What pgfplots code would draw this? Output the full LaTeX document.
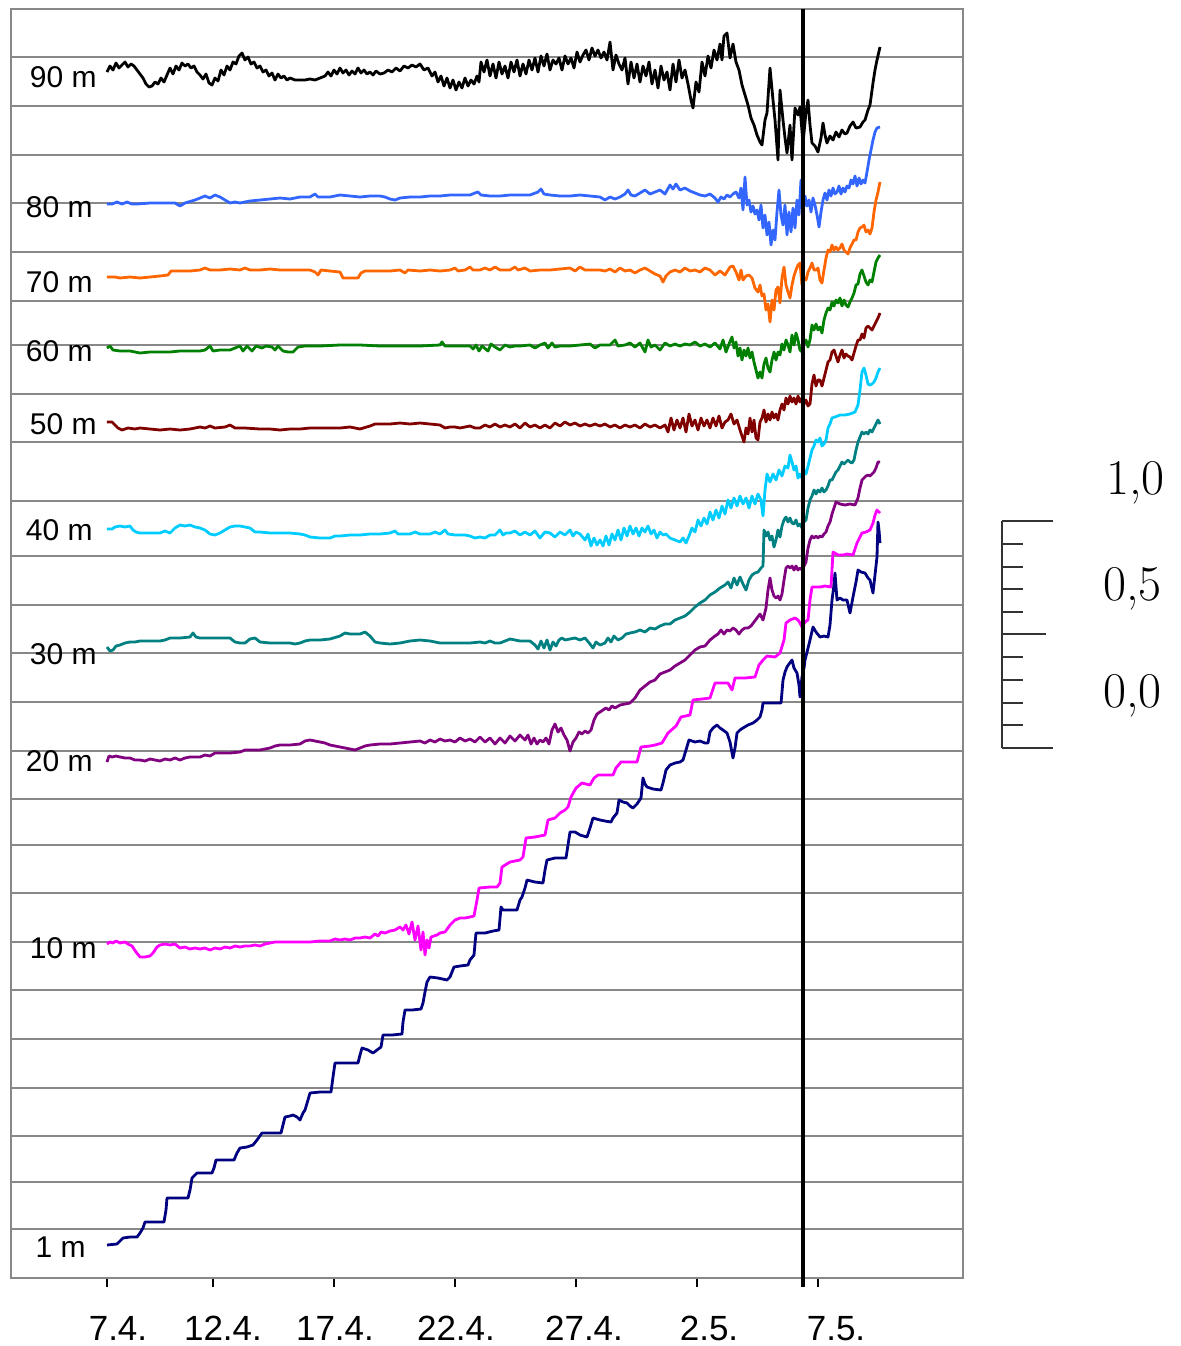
\documentclass[border=0pt]{standalone}
\usepackage{fontspec}
\usepackage{pgfplots}
\pgfplotsset{compat=1.18}
\newfontfamily\arial{Liberation Sans}
\newfontfamily\lmr{Latin Modern Roman}
\definecolor{c80}{HTML}{3366FF}
\definecolor{c70}{HTML}{FF6600}
\definecolor{c60}{HTML}{008000}
\definecolor{c50}{HTML}{800000}
\definecolor{c40}{HTML}{00CCFF}
\definecolor{c30}{HTML}{008080}
\definecolor{c20}{HTML}{800080}
\definecolor{c10}{HTML}{FF00FF}
\definecolor{c1}{HTML}{000080}
\definecolor{gridgray}{HTML}{888888}
\begin{document}
\begin{tikzpicture}
\begin{axis}[
  scale only axis,
  width=476pt, height=634.5pt,
  xmin=11, xmax=963, ymin=9, ymax=1278,
  y dir=reverse,
  clip=false,
  axis line style={draw=gridgray, line width=1.3pt},
  xtick={107,213,334,455,576,697,818},
  xticklabels={,,,,,,},
  xtick pos=lower,
  tick align=outside,
  major tick length=4.5pt,
  x tick style={black, line width=0.6pt},
  ytick={57,106,155,203,252,301,345,394,442,501,556,605,653,702,751,799,845,893,942,990,1039,1088,1136,1182,1229},
  yticklabels={},
  y tick style={draw=none},
  xticklabel style={overlay},
  yticklabel style={overlay},
  ymajorgrids,
  major grid style={draw=gridgray, line width=1pt},
  every axis plot/.append style={line width=1.4pt, line join=round},
]
\path (axis cs:0,0) rectangle (axis cs:1181,1346);
% 90 m
\addplot[black] coordinates {(107,72)(110,66)(113,70)(116,63)(119,68)(122,65)(125,62)(128,67)(131,64)(134,66)(137,70)(140,74)(143,78)(146,84)(149,87)(152,86)(155,82)(158,84)(161,78)(164,82)(167,75)(170,68)(173,74)(176,66)(179,70)(182,63)(185,66)(188,64)(191,68)(194,66)(197,72)(200,75)(203,79)(206,74)(209,83)(212,85)(215,78)(218,81)(221,70)(224,75)(227,66)(230,70)(233,62)(236,64)(239,56)(242,53)(245,60)(248,57)(251,64)(254,62)(257,68)(260,66)(263,72)(266,70)(269,76)(272,73)(275,80)(278,74)(281,78)(284,76)(287,80)(290,78)(295,80)(300,80)(305,80)(310,79)(315,80)(320,78)(325,76)(328,72)(331,76)(334,70)(337,74)(340,68)(343,73)(346,70)(349,75)(352,71)(355,74)(358,68)(361,73)(364,70)(367,74)(370,72)(373,75)(376,71)(380,74)(384,73)(388,70)(392,72)(396,68)(400,71)(404,66)(408,68)(412,65)(416,67)(420,64)(424,70)(428,68)(432,76)(435,72)(438,82)(441,76)(444,86)(447,78)(450,88)(453,80)(456,90)(459,82)(462,88)(465,78)(468,86)(471,80)(474,84)(477,76)(479,82)(481,62)(484,72)(487,60)(490,76)(493,64)(496,78)(499,62)(502,74)(505,66)(508,78)(511,62)(514,72)(517,60)(520,76)(523,64)(526,74)(529,60)(532,70)(535,58)(538,72)(541,56)(544,66)(547,54)(550,70)(553,60)(556,64)(559,58)(562,70)(565,56)(568,64)(571,58)(574,68)(577,52)(580,62)(583,55)(586,50)(589,60)(592,48)(595,56)(598,50)(601,58)(604,52)(607,60)(610,42)(613,70)(616,55)(619,64)(622,70)(625,58)(628,84)(631,62)(634,78)(637,64)(640,82)(643,66)(646,76)(649,62)(652,84)(655,70)(658,88)(661,66)(664,80)(667,72)(670,90)(673,64)(676,82)(679,60)(682,78)(685,70)(688,84)(691,100)(693,108)(696,82)(699,92)(702,62)(705,76)(708,56)(711,68)(714,50)(717,60)(720,44)(722,60)(724,36)(727,33)(730,58)(733,44)(736,62)(739,70)(742,85)(745,95)(748,105)(751,118)(754,125)(757,135)(760,142)(762,145)(765,120)(767,113)(770,68)(773,100)(775,120)(778,160)(780,90)(783,120)(785,138)(787,153)(790,125)(792,160)(795,108)(798,115)(800,107)(803,143)(806,112)(808,100)(810,125)(812,143)(815,146)(818,152)(821,138)(823,123)(825,135)(827,143)(830,136)(833,140)(836,132)(839,137)(842,130)(845,134)(847,133)(850,126)(853,122)(856,128)(860,127)(863,122)(865,120)(868,110)(870,105)(873,83)(875,70)(877,60)(880,47)};
% 80 m
\addplot[c80] coordinates {(107,204)(112,204)(117,202)(122,204)(127,202)(132,204)(137,204)(150,203)(160,203)(175,203)(180,206)(185,203)(195,200)(200,198)(205,196)(210,198)(215,195)(220,197)(225,200)(230,203)(235,202)(240,203)(250,201)(260,200)(270,199)(280,198)(290,199)(300,197)(310,197)(315,194)(318,197)(330,197)(340,195)(350,196)(360,197)(370,196)(380,196)(385,197)(390,199)(395,200)(400,198)(410,197)(420,197)(430,196)(440,196)(450,195)(460,195)(470,195)(475,193)(478,192)(481,195)(490,196)(500,196)(510,195)(520,195)(530,195)(538,192)(541,189)(544,194)(550,195)(560,196)(570,196)(580,195)(590,196)(600,197)(605,200)(610,197)(615,199)(620,197)(625,194)(628,190)(631,195)(635,196)(640,193)(645,190)(650,194)(655,192)(660,190)(665,194)(670,185)(673,189)(676,184)(680,190)(685,188)(690,191)(695,193)(700,195)(705,196)(710,194)(715,198)(718,202)(721,197)(724,199)(727,195)(730,197)(733,194)(736,192)(739,198)(741,188)(743,210)(745,177)(747,205)(749,200)(751,212)(753,206)(755,214)(757,210)(759,220)(761,205)(763,228)(765,215)(767,235)(769,222)(771,245)(773,230)(775,240)(777,212)(779,190)(781,215)(783,225)(785,205)(787,235)(789,212)(791,232)(793,208)(795,228)(797,200)(799,215)(801,180)(803,212)(805,196)(807,206)(809,200)(811,212)(813,198)(815,205)(817,215)(819,227)(821,212)(823,200)(825,193)(827,200)(829,190)(831,196)(833,188)(835,194)(837,192)(839,186)(841,194)(843,188)(845,192)(847,186)(849,188)(851,180)(853,184)(855,176)(857,186)(859,178)(861,184)(863,180)(865,183)(867,172)(869,160)(871,150)(873,140)(875,132)(877,128)(880,127)};
% 70 m
\addplot[c70] coordinates {(107,277)(115,277)(120,278)(130,277)(140,278)(150,277)(160,276)(168,275)(171,271)(180,271)(190,271)(200,270)(205,268)(210,270)(220,270)(230,269)(240,270)(245,268)(250,270)(260,270)(270,269)(280,270)(290,270)(300,270)(310,270)(315,272)(318,275)(321,270)(330,271)(340,272)(343,278)(350,278)(358,278)(361,273)(365,271)(375,271)(380,271)(390,271)(400,270)(405,273)(408,270)(420,271)(430,270)(440,271)(450,270)(455,268)(458,271)(465,270)(470,267)(473,270)(480,270)(485,268)(490,270)(495,267)(500,270)(510,270)(515,267)(518,270)(525,268)(530,271)(540,270)(550,270)(560,269)(570,268)(575,271)(580,267)(585,270)(590,270)(600,270)(605,271)(610,269)(615,272)(620,268)(625,271)(630,270)(635,273)(640,270)(645,268)(650,271)(655,274)(660,276)(663,282)(666,276)(670,272)(675,270)(680,272)(685,268)(690,271)(695,270)(700,272)(705,268)(710,270)(715,275)(720,271)(725,275)(730,267)(733,266)(736,272)(739,280)(741,270)(743,280)(746,276)(749,275)(752,278)(755,288)(758,292)(760,285)(762,296)(764,294)(766,310)(768,304)(770,322)(772,300)(774,310)(776,290)(778,287)(780,303)(782,278)(784,267)(786,285)(788,292)(790,298)(792,285)(794,276)(796,270)(798,265)(800,263)(802,285)(804,278)(806,280)(808,272)(810,268)(812,263)(814,270)(816,270)(818,268)(820,280)(822,283)(824,270)(826,258)(828,250)(830,252)(832,245)(834,250)(836,247)(838,250)(840,248)(842,244)(844,250)(846,252)(848,254)(850,248)(852,244)(854,240)(856,240)(858,232)(860,228)(862,227)(864,225)(866,232)(868,230)(870,234)(872,228)(874,212)(876,200)(878,192)(880,182)};
% 60 m
\addplot[c60] coordinates {(107,348)(110,346)(113,350)(120,351)(130,351)(140,353)(150,352)(160,352)(170,352)(180,351)(190,351)(200,351)(205,350)(210,346)(213,351)(220,350)(230,350)(240,346)(243,351)(247,346)(252,351)(256,346)(262,348)(266,346)(272,347)(275,350)(278,346)(283,351)(288,352)(293,352)(298,347)(305,346)(320,346)(340,345)(360,345)(380,346)(400,346)(420,346)(440,345)(442,342)(445,346)(460,346)(470,346)(473,349)(476,345)(479,351)(482,346)(488,351)(491,344)(495,347)(500,350)(505,345)(510,347)(515,346)(520,346)(530,345)(535,348)(540,345)(545,343)(548,348)(552,343)(555,347)(560,346)(570,346)(580,345)(590,344)(595,348)(600,345)(610,345)(615,340)(618,346)(625,345)(630,343)(635,347)(640,343)(645,352)(648,340)(651,347)(655,345)(660,350)(665,343)(670,346)(675,344)(680,346)(685,344)(690,345)(695,342)(700,346)(705,344)(710,347)(715,343)(720,349)(723,340)(726,352)(729,344)(732,337)(734,348)(736,342)(738,356)(740,348)(742,360)(744,350)(746,356)(748,348)(750,358)(752,352)(754,362)(756,370)(758,378)(760,372)(762,378)(764,364)(766,358)(768,368)(770,372)(772,360)(774,352)(776,360)(778,352)(780,355)(782,344)(784,350)(786,340)(788,345)(790,352)(792,335)(794,345)(796,333)(798,340)(800,350)(802,352)(804,343)(806,340)(808,347)(810,340)(812,325)(814,330)(816,324)(818,330)(820,327)(822,333)(824,320)(826,313)(828,308)(830,310)(832,302)(834,306)(836,300)(838,303)(840,298)(842,306)(844,300)(846,305)(848,307)(850,302)(852,298)(854,293)(856,285)(858,284)(860,274)(862,270)(864,276)(866,282)(868,285)(870,280)(872,282)(874,272)(876,262)(878,258)(880,255)};
% 50 m
\addplot[c50] coordinates {(107,422)(112,422)(115,425)(118,428)(122,430)(128,428)(135,429)(140,428)(150,429)(160,430)(170,429)(180,430)(190,429)(195,428)(200,427)(205,428)(210,426)(215,428)(225,427)(230,425)(235,428)(245,428)(260,429)(270,429)(280,430)(290,429)(300,429)(310,428)(320,428)(330,428)(340,428)(350,427)(355,428)(360,429)(370,426)(375,424)(380,424)(390,424)(400,423)(410,424)(420,423)(430,424)(440,425)(445,428)(450,427)(455,427)(460,428)(470,426)(475,428)(480,428)(485,425)(490,427)(495,424)(500,427)(505,425)(510,427)(515,424)(520,428)(525,423)(530,427)(535,425)(540,428)(545,425)(550,428)(555,423)(560,426)(565,422)(570,425)(575,423)(580,426)(585,424)(590,426)(595,424)(600,426)(605,424)(610,427)(615,425)(620,428)(625,425)(630,427)(635,425)(640,428)(645,424)(650,427)(655,425)(660,428)(665,425)(668,432)(671,418)(674,430)(677,420)(680,428)(683,418)(686,432)(689,414)(692,426)(695,420)(698,430)(701,418)(704,426)(707,420)(710,428)(713,418)(716,426)(719,416)(722,428)(725,422)(728,420)(731,414)(734,424)(737,420)(740,430)(742,436)(744,442)(746,428)(748,434)(750,418)(752,432)(754,420)(756,438)(758,440)(760,422)(762,418)(764,410)(766,422)(768,414)(770,420)(772,412)(774,418)(776,414)(778,420)(780,410)(782,404)(784,410)(786,398)(788,404)(790,396)(792,402)(794,398)(796,404)(798,396)(800,402)(802,398)(804,404)(806,400)(808,406)(810,404)(812,384)(814,375)(816,386)(818,380)(820,380)(822,386)(824,378)(826,370)(828,362)(830,360)(832,352)(834,350)(836,356)(838,362)(840,355)(842,350)(844,358)(846,354)(848,356)(850,357)(852,360)(854,353)(856,346)(858,340)(860,340)(862,334)(864,338)(866,328)(868,326)(870,328)(872,330)(874,326)(876,322)(878,318)(880,313)};
% 40 m
\addplot[c40] coordinates {(107,529)(112,529)(115,527)(120,526)(125,527)(130,526)(133,530)(136,532)(140,533)(150,533)(160,533)(165,531)(170,533)(175,528)(180,525)(185,526)(190,525)(195,527)(200,528)(205,530)(210,534)(215,535)(220,533)(225,530)(230,527)(235,526)(240,526)(245,527)(250,528)(255,532)(260,532)(270,533)(280,533)(290,533)(300,534)(305,535)(310,537)(320,538)(330,538)(335,536)(340,536)(350,535)(360,535)(370,534)(380,534)(390,533)(395,531)(398,534)(405,534)(410,534)(415,532)(420,534)(430,534)(435,532)(440,534)(445,530)(448,534)(455,535)(460,535)(465,535)(470,536)(475,538)(480,537)(485,538)(490,535)(495,535)(500,530)(503,535)(506,533)(510,533)(515,531)(520,535)(525,532)(530,535)(535,531)(540,538)(545,532)(550,533)(555,537)(560,532)(565,535)(570,530)(573,536)(576,532)(580,534)(585,540)(588,534)(591,546)(594,538)(597,545)(600,540)(603,546)(606,536)(609,545)(612,534)(615,540)(618,530)(621,540)(624,528)(627,536)(630,526)(633,534)(636,528)(639,536)(642,528)(645,532)(648,526)(651,534)(654,530)(657,538)(660,532)(663,535)(666,534)(670,538)(675,540)(680,542)(683,538)(686,543)(689,536)(692,528)(695,532)(698,520)(701,526)(704,518)(707,524)(710,512)(713,520)(716,510)(719,518)(722,506)(725,514)(728,500)(731,508)(734,498)(737,506)(740,496)(743,504)(746,498)(749,508)(752,496)(755,504)(758,494)(761,500)(763,516)(765,490)(767,474)(770,482)(773,474)(776,480)(779,470)(782,476)(785,466)(788,468)(790,455)(792,462)(794,470)(796,466)(798,478)(800,474)(802,478)(804,470)(806,474)(808,466)(810,458)(812,450)(814,446)(816,440)(818,442)(820,438)(822,446)(824,444)(826,440)(828,428)(830,424)(832,418)(835,417)(840,415)(845,415)(850,414)(855,412)(858,405)(860,390)(862,372)(864,368)(866,375)(868,384)(870,385)(872,384)(874,382)(876,378)(878,372)(880,368)};
% 30 m
\addplot[c30] coordinates {(107,647)(110,651)(113,650)(116,646)(120,645)(125,643)(130,642)(135,642)(140,641)(150,641)(160,641)(165,640)(170,638)(180,638)(190,637)(193,633)(196,637)(200,638)(210,638)(220,638)(230,638)(235,642)(240,643)(245,643)(250,639)(255,638)(260,642)(270,643)(280,643)(290,643)(295,644)(300,643)(305,641)(310,640)(320,640)(330,639)(340,636)(345,633)(350,634)(360,634)(365,632)(370,636)(375,642)(380,643)(390,644)(400,643)(410,641)(420,640)(430,641)(440,643)(450,643)(460,643)(470,643)(480,642)(485,643)(490,641)(495,643)(500,643)(505,641)(510,639)(515,640)(520,641)(525,641)(530,641)(535,645)(538,649)(541,641)(544,648)(547,640)(550,650)(553,642)(556,646)(559,640)(562,638)(565,640)(570,639)(575,638)(580,640)(585,638)(590,644)(593,648)(596,642)(600,645)(605,643)(608,638)(611,642)(614,636)(618,640)(622,638)(626,634)(630,633)(635,632)(640,630)(645,632)(650,628)(655,629)(660,626)(665,624)(670,624)(675,620)(680,618)(685,616)(690,612)(695,607)(700,603)(705,600)(710,595)(715,592)(720,588)(725,585)(728,582)(731,588)(734,578)(737,585)(740,577)(743,584)(746,590)(749,580)(752,575)(755,573)(758,572)(761,568)(763,566)(764,530)(766,536)(768,532)(770,540)(772,536)(774,547)(776,540)(778,530)(780,537)(782,526)(784,520)(786,517)(788,522)(790,518)(792,523)(794,524)(796,520)(798,526)(800,524)(802,528)(804,522)(806,520)(808,508)(810,500)(812,496)(814,490)(816,494)(818,490)(820,492)(822,488)(824,492)(826,490)(828,486)(830,480)(832,480)(834,476)(836,472)(838,470)(840,466)(842,462)(844,464)(846,462)(848,460)(850,462)(852,463)(854,460)(856,450)(858,442)(860,437)(862,432)(864,434)(866,432)(868,434)(870,430)(872,432)(874,428)(876,424)(878,420)(880,424)};
% 20 m
\addplot[c20] coordinates {(107,762)(109,756)(112,757)(116,756)(120,757)(125,758)(130,758)(135,760)(140,760)(145,761)(150,759)(155,760)(160,761)(165,759)(170,760)(175,758)(180,760)(185,758)(190,757)(200,757)(205,755)(210,756)(215,753)(220,753)(230,753)(240,752)(245,750)(250,750)(260,750)(265,749)(270,748)(275,746)(280,745)(290,745)(300,744)(305,741)(310,740)(315,741)(320,742)(325,743)(330,745)(335,746)(340,747)(345,748)(350,749)(355,750)(360,748)(365,746)(370,745)(380,744)(390,744)(400,743)(410,742)(420,741)(425,743)(430,740)(435,742)(440,739)(445,741)(450,740)(455,742)(460,738)(465,741)(470,739)(475,742)(480,737)(485,742)(490,738)(495,744)(500,738)(505,743)(510,736)(515,741)(520,735)(525,740)(528,735)(531,744)(534,738)(537,744)(540,740)(543,742)(546,738)(549,744)(552,730)(555,724)(558,732)(561,728)(564,735)(567,740)(570,751)(573,742)(576,738)(579,732)(582,734)(585,731)(588,733)(591,730)(594,720)(597,714)(600,712)(603,710)(606,708)(609,710)(612,706)(615,708)(620,705)(625,704)(630,703)(635,698)(640,690)(645,686)(650,682)(655,680)(660,674)(665,672)(670,670)(675,666)(680,663)(685,660)(690,655)(695,650)(700,647)(705,646)(710,640)(715,636)(718,634)(721,630)(724,634)(727,630)(730,631)(733,628)(736,630)(739,634)(742,630)(745,628)(748,628)(751,626)(754,622)(757,618)(760,614)(763,620)(766,608)(768,590)(770,578)(772,590)(774,596)(776,598)(778,596)(780,600)(782,594)(784,580)(786,568)(788,566)(790,568)(792,566)(794,570)(796,566)(798,570)(800,568)(802,570)(804,566)(806,562)(808,548)(810,540)(812,536)(814,538)(816,536)(818,538)(820,536)(822,537)(824,534)(826,532)(828,526)(830,522)(832,514)(834,508)(836,502)(838,503)(840,504)(845,505)(850,504)(855,505)(858,498)(860,488)(862,480)(864,478)(866,476)(868,475)(870,476)(872,474)(874,472)(876,468)(878,462)(880,462)};
% 10 m
\addplot[c10] coordinates {(107,944)(110,942)(113,943)(116,941)(120,943)(125,942)(128,944)(132,946)(136,952)(140,957)(145,957)(150,956)(153,953)(157,947)(160,945)(165,944)(170,945)(175,944)(180,948)(185,947)(190,949)(195,948)(200,949)(205,948)(210,950)(215,948)(220,949)(225,947)(230,948)(235,946)(240,947)(245,946)(250,946)(255,945)(260,946)(265,944)(270,943)(275,942)(280,942)(290,942)(300,942)(310,942)(320,941)(330,941)(335,939)(340,940)(345,939)(350,940)(355,938)(360,938)(365,937)(370,938)(375,934)(378,936)(381,932)(385,933)(390,931)(395,930)(400,927)(403,930)(406,925)(409,934)(412,922)(415,940)(418,926)(421,950)(423,932)(425,955)(427,940)(429,948)(431,937)(434,936)(437,935)(440,933)(445,932)(450,925)(455,920)(460,918)(465,918)(470,917)(474,916)(477,900)(479,888)(490,887)(497,887)(500,883)(502,867)(510,862)(520,860)(523,857)(526,838)(535,837)(545,835)(548,820)(555,818)(560,813)(565,810)(568,807)(571,797)(576,788)(582,783)(590,785)(594,778)(598,775)(605,775)(613,775)(616,768)(621,762)(633,762)(637,762)(641,747)(650,746)(655,745)(662,743)(668,733)(676,726)(681,717)(690,715)(693,700)(702,699)(710,698)(715,683)(722,683)(728,683)(732,690)(735,678)(745,678)(755,677)(759,665)(763,660)(767,656)(775,657)(780,653)(784,640)(786,623)(790,620)(795,618)(798,620)(800,623)(802,627)(805,622)(808,620)(810,600)(812,587)(820,587)(825,586)(831,587)(833,552)(838,555)(843,555)(847,554)(853,555)(857,543)(862,533)(866,532)(870,530)(873,523)(875,515)(877,510)(880,513)};
% 1 m
\addplot[c1] coordinates {(107,1245)(117,1244)(120,1241)(123,1238)(130,1237)(137,1237)(140,1233)(143,1228)(145,1222)(155,1222)(164,1222)(166,1210)(167,1198)(178,1198)(188,1198)(190,1190)(192,1178)(197,1173)(205,1173)(212,1173)(214,1168)(216,1160)(225,1160)(234,1160)(237,1153)(240,1148)(247,1147)(253,1145)(257,1140)(262,1133)(272,1133)(281,1133)(283,1125)(285,1117)(290,1116)(293,1115)(297,1117)(300,1120)(303,1113)(305,1110)(308,1100)(310,1093)(320,1092)(331,1092)(333,1077)(335,1063)(347,1063)(358,1063)(360,1055)(362,1048)(368,1050)(373,1053)(377,1050)(381,1047)(383,1035)(392,1035)(402,1034)(403,1022)(405,1010)(412,1010)(421,1009)(423,1003)(425,992)(427,982)(430,977)(438,978)(447,980)(450,977)(454,967)(460,966)(468,965)(470,960)(474,955)(476,933)(485,933)(493,931)(499,930)(501,907)(503,910)(510,910)(517,910)(520,900)(522,897)(525,888)(527,880)(535,882)(543,883)(545,870)(547,860)(555,858)(566,858)(568,845)(570,832)(575,832)(580,835)(587,837)(590,828)(593,818)(600,820)(605,821)(611,822)(613,818)(617,813)(619,800)(623,802)(627,803)(630,806)(633,808)(637,804)(641,798)(643,778)(645,784)(647,787)(653,789)(661,790)(663,783)(666,770)(670,765)(675,763)(680,762)(683,760)(686,750)(689,740)(695,742)(700,741)(705,743)(708,743)(710,732)(713,728)(717,725)(720,728)(723,730)(727,733)(730,742)(733,758)(735,748)(737,733)(740,730)(743,728)(748,725)(753,723)(757,720)(760,717)(762,710)(763,703)(770,703)(775,703)(781,703)(782,692)(783,680)(785,672)(787,667)(789,664)(792,660)(794,668)(797,673)(799,685)(800,697)(802,677)(804,668)(805,660)(807,652)(808,648)(810,640)(813,627)(816,632)(820,637)(824,636)(828,637)(830,625)(832,600)(834,585)(835,573)(837,600)(840,598)(843,600)(847,600)(850,613)(853,597)(856,582)(858,570)(861,572)(865,573)(868,578)(870,580)(873,593)(875,575)(877,557)(878,522)(879,530)(880,543)};
% vertical marker line
\addplot[black, line width=2pt] coordinates {(803,9) (803,1287)};
% depth labels
\begin{scope}[every node/.style={font=\arial\fontsize{15}{18}\selectfont, inner sep=0pt, anchor=east}]
\node at (axis cs:97,77) {90 m};
\node at (axis cs:93,207) {80 m};
\node at (axis cs:93,282) {70 m};
\node at (axis cs:93,351) {60 m};
\node at (axis cs:97,424) {50 m};
\node at (axis cs:93,530) {40 m};
\node at (axis cs:97,654) {30 m};
\node at (axis cs:93,761) {20 m};
\node at (axis cs:97,948) {10 m};
\node at (axis cs:86,1247) {1 m};
\end{scope}
% date labels
\begin{scope}[every node/.style={font=\arial\fontsize{17.5}{20}\selectfont, inner sep=0pt, anchor=base}]
\node at (axis cs:118,1340) {7.4.};
\node at (axis cs:223,1340) {12.4.};
\node at (axis cs:335,1340) {17.4.};
\node at (axis cs:456,1340) {22.4.};
\node at (axis cs:584,1340) {27.4.};
\node at (axis cs:709,1340) {2.5.};
\node at (axis cs:836,1340) {7.5.};
\end{scope}
% scale bar
\draw[black!80, line width=0.6pt] (axis cs:1002,521) -- (axis cs:1002,748);
\draw[black!80, line width=0.6pt] (axis cs:1002,521) -- (axis cs:1053,521);
\draw[black!80, line width=0.6pt] (axis cs:1002,748) -- (axis cs:1053,748);
\draw[black!80, line width=0.6pt] (axis cs:1002,634) -- (axis cs:1046,634);
\draw[black!80, line width=0.6pt] (axis cs:1002,544) -- (axis cs:1023,544);
\draw[black!80, line width=0.6pt] (axis cs:1002,567) -- (axis cs:1023,567);
\draw[black!80, line width=0.6pt] (axis cs:1002,589) -- (axis cs:1023,589);
\draw[black!80, line width=0.6pt] (axis cs:1002,612) -- (axis cs:1023,612);
\draw[black!80, line width=0.6pt] (axis cs:1002,657) -- (axis cs:1023,657);
\draw[black!80, line width=0.6pt] (axis cs:1002,680) -- (axis cs:1023,680);
\draw[black!80, line width=0.6pt] (axis cs:1002,703) -- (axis cs:1023,703);
\draw[black!80, line width=0.6pt] (axis cs:1002,725) -- (axis cs:1023,725);
\begin{scope}[every node/.style={font=\lmr\fontsize{25}{30}\selectfont, inner sep=0pt, anchor=base east}]
\node at (axis cs:1165,494) {1,0};
\node at (axis cs:1162,600) {0,5};
\node at (axis cs:1162,707) {0,0};
\end{scope}
\end{axis}
\end{tikzpicture}
\end{document}
